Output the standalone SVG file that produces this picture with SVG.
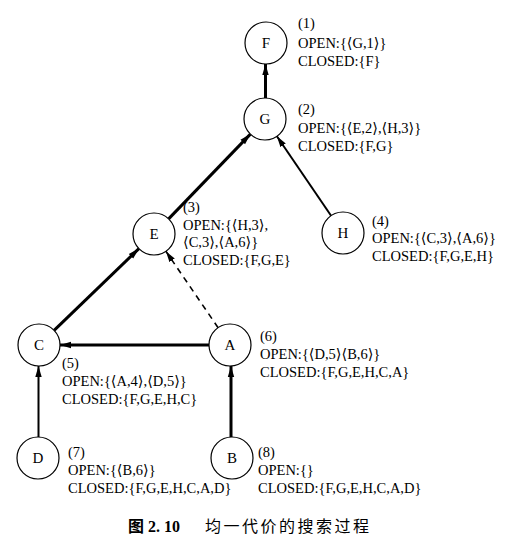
<svg xmlns="http://www.w3.org/2000/svg" width="505" height="544" viewBox="0 0 505 544">
<style>
.node circle{fill:#fff;stroke:#000;stroke-width:1.2}
.node text{font-family:"Liberation Serif","DejaVu Serif",serif;font-size:15px;text-anchor:middle;fill:#000}
.lbl{font-family:"Liberation Serif","DejaVu Serif",serif;font-size:14.5px;fill:#000}
.e{stroke:#000;fill:none}
.thick{stroke-width:3}
.mid{stroke-width:2}
.dash{stroke-width:1.6;stroke-dasharray:6,5}
.cap{font-family:"Liberation Serif","Noto Sans CJK SC",serif;font-size:16px;fill:#000}
</style>
<defs>
<marker id="ah" markerUnits="userSpaceOnUse" markerWidth="12" markerHeight="8" refX="11" refY="4" orient="auto">
<path d="M0,0.8 L11,4 L0,7.2 z" fill="#000"/>
</marker>
</defs>
<rect width="505" height="544" fill="#fff"/>
<g id="connectors">
<line class="e thick" x1="265.5" y1="98" x2="265.5" y2="64" marker-end="url(#ah)"/>
<line class="e thick" x1="168.6" y1="218.9" x2="250.4" y2="134.1" marker-end="url(#ah)"/>
<line class="e mid" x1="331.1" y1="215.7" x2="276.9" y2="136.3" marker-end="url(#ah)"/>
<line class="e thick" x1="54.1" y1="330.4" x2="138.9" y2="248.6" marker-end="url(#ah)"/>
<line class="e dash" x1="218.1" y1="327.7" x2="165.9" y2="251.3" marker-end="url(#ah)"/>
<line class="e thick" x1="209" y1="345" x2="60" y2="345" marker-end="url(#ah)"/>
<line class="e mid" x1="38.5" y1="437" x2="38.5" y2="366" marker-end="url(#ah)"/>
<line class="e thick" x1="231" y1="437" x2="231" y2="366" marker-end="url(#ah)"/>
</g>
<g id="node-F" class="node"><circle cx="266" cy="43" r="21"/><text x="266" y="48">F</text></g>
<g id="node-G" class="node"><circle cx="265" cy="119" r="21"/><text x="265" y="124">G</text></g>
<g id="node-E" class="node"><circle cx="154" cy="234" r="21"/><text x="154" y="239">E</text></g>
<g id="node-H" class="node"><circle cx="343" cy="233" r="21"/><text x="343" y="238">H</text></g>
<g id="node-C" class="node"><circle cx="39" cy="345" r="21"/><text x="39" y="350">C</text></g>
<g id="node-A" class="node"><circle cx="230" cy="345" r="21"/><text x="230" y="350">A</text></g>
<g id="node-D" class="node"><circle cx="38" cy="458" r="21"/><text x="38" y="463">D</text></g>
<g id="node-B" class="node"><circle cx="232" cy="458" r="21"/><text x="232" y="463">B</text></g>
<g id="labels">
<text class="lbl" x="298" y="28">(1)</text>
<text class="lbl" x="298" y="48">OPEN:{⟨G,1⟩}</text>
<text class="lbl" x="298" y="66">CLOSED:{F}</text>
<text class="lbl" x="298" y="114">(2)</text>
<text class="lbl" x="298" y="133">OPEN:{⟨E,2⟩,⟨H,3⟩}</text>
<text class="lbl" x="298" y="151">CLOSED:{F,G}</text>
<text class="lbl" x="183" y="212">(3)</text>
<text class="lbl" x="183" y="230">OPEN:{⟨H,3⟩,</text>
<text class="lbl" x="183" y="247">⟨C,3⟩,⟨A,6⟩}</text>
<text class="lbl" x="183" y="265">CLOSED:{F,G,E}</text>
<text class="lbl" x="372" y="226">(4)</text>
<text class="lbl" x="372" y="243">OPEN:{⟨C,3⟩,⟨A,6⟩}</text>
<text class="lbl" x="372" y="261">CLOSED:{F,G,E,H}</text>
<text class="lbl" x="62" y="368">(5)</text>
<text class="lbl" x="62" y="386">OPEN:{⟨A,4⟩,⟨D,5⟩}</text>
<text class="lbl" x="62" y="404">CLOSED:{F,G,E,H,C}</text>
<text class="lbl" x="260" y="341">(6)</text>
<text class="lbl" x="260" y="359">OPEN:{⟨D,5⟩⟨B,6⟩}</text>
<text class="lbl" x="260" y="377">CLOSED:{F,G,E,H,C,A}</text>
<text class="lbl" x="68" y="457">(7)</text>
<text class="lbl" x="68" y="475">OPEN:{⟨B,6⟩}</text>
<text class="lbl" x="68" y="493">CLOSED:{F,G,E,H,C,A,D}</text>
<text class="lbl" x="258" y="457">(8)</text>
<text class="lbl" x="258" y="475">OPEN:{}</text>
<text class="lbl" x="258" y="493">CLOSED:{F,G,E,H,C,A,D}</text>
</g>
<g id="caption">
<text class="cap" x="128" y="532" font-weight="bold">图 2. 10</text>
<text class="cap" x="205" y="532" letter-spacing="2.5">均一代价的搜索过程</text>
</g>
</svg>
